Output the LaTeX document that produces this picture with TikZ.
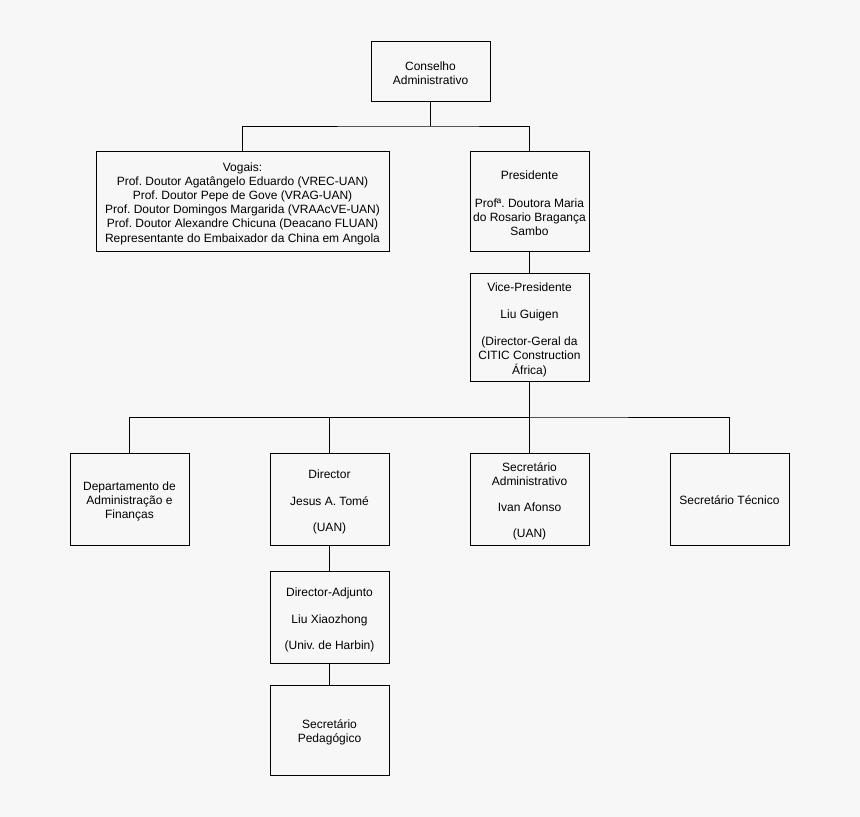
\documentclass[tikz,border=0pt]{standalone}
\usepackage{fontspec}
\setmainfont{Liberation Sans}
\frenchspacing
\begin{document}
\begin{tikzpicture}[x=1pt,y=1pt,
  frame/.style={draw=black,line width=0.9pt,inner sep=0pt,minimum width=119pt},
  txt/.style={inner sep=0pt,align=center,font=\fontsize{12}{14.2}\selectfont},
  conn/.style={draw=black,line width=0.9pt}]
\path[fill=white!97!black] (0,0) rectangle (860,-817);
\useasboundingbox (0,0) rectangle (860,-817);
% frames
\node[frame,minimum height=60pt] (cons) at (430.5,-71) {};
\node[frame,minimum width=293pt,minimum height=100pt] (vog) at (242.5,-201) {};
\node[frame,minimum height=100pt] (pres) at (529.5,-201) {};
\node[frame,minimum height=108pt] (vice) at (529.5,-327) {};
\node[frame,minimum height=92pt] (dep) at (129.5,-499) {};
\node[frame,minimum height=92pt] (dir) at (329.5,-499) {};
\node[frame,minimum height=92pt] (seca) at (529.5,-499) {};
\node[frame,minimum height=92pt] (sect) at (729.5,-499) {};
\node[frame,minimum height=92pt] (adj) at (329.5,-617) {};
\node[frame,minimum height=90pt] (ped) at (329.5,-730) {};
% texts
\node[txt] (consT) at ([yshift=-2pt]cons.center) {Conselho\\Administrativo};
\node[txt] (vogT) at ([yshift=-2.5pt]vog.center) {Vogais:\\Prof. Doutor Agatângelo Eduardo (VREC-UAN)\\Prof. Doutor Pepe de Gove (VRAG-UAN)\\Prof. Doutor Domingos Margarida (VRAAcVE-UAN)\\Prof. Doutor Alexandre Chicuna (Deacano FLUAN)\\Representante do Embaixador da China em Angola};
\node[txt] (presT) at ([yshift=-2.5pt]pres.center) {Presidente\\[13pt]Profª. Doutora Maria\\do Rosario Bragança\\Sambo};
\node[txt] (viceT) at ([yshift=-2.5pt]vice.center) {Vice-Presidente\\[13pt]Liu Guigen\\[13pt](Director-Geral da\\CITIC Construction\\África)};
\node[txt] (depT) at ([yshift=-2.5pt]dep.center) {Departamento de\\Administração e\\Finanças};
\node[txt] (dirT) at ([yshift=-3pt]dir.center) {Director\\[12.5pt]Jesus A. Tomé\\[12.5pt](UAN)};
\node[txt] (secaT) at ([yshift=-2.5pt]seca.center) {Secretário\\Administrativo\\[12pt]Ivan Afonso\\[12pt](UAN)};
\node[txt] (sectT) at ([yshift=-1pt]sect.center) {Secretário Técnico};
\node[txt] (adjT) at ([yshift=-3pt]adj.center) {Director-Adjunto\\[12pt]Liu Xiaozhong\\[12pt](Univ. de Harbin)};
\node[txt] (pedT) at ([yshift=-2pt]ped.center) {Secretário\\Pedagógico};
% connectors
\coordinate (bus1) at (430.5,-126);
\coordinate (bus2) at (529.5,-417);
\draw[conn] (cons.south) -- (bus1);
\draw[conn] (vog.north) |- (bus1) -| (pres.north);
\draw[conn] (pres.south) -- (vice.north);
\draw[conn] (vice.south) -- (seca.north);
\draw[conn] (dep.north) |- (bus2) -| (sect.north);
\draw[conn] (dir.north) |- (bus2);
\draw[conn] (dir.south) -- (adj.north);
\draw[conn] (adj.south) -- (ped.north);
\end{tikzpicture}
\end{document}
